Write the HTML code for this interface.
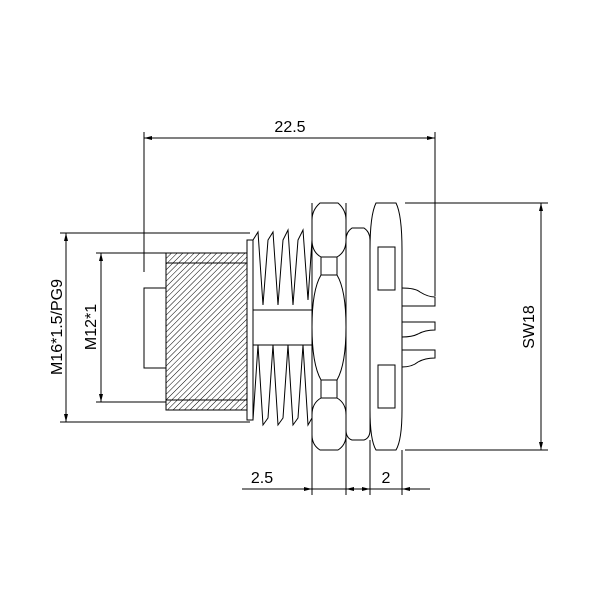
<!DOCTYPE html>
<html><head><style>body{margin:0;background:#fff}svg{display:block}</style></head><body>
<svg width="600" height="600" viewBox="0 0 600 600" xmlns="http://www.w3.org/2000/svg" font-family="Liberation Sans, sans-serif">
<defs>
<pattern id="h" width="4" height="4" patternUnits="userSpaceOnUse" patternTransform="rotate(45)">
<line x1="0" y1="0" x2="0" y2="4" stroke="#000" stroke-width="1"/></pattern>
<marker id="a" markerWidth="8" markerHeight="4" refX="8" refY="2" orient="auto-start-reverse" markerUnits="userSpaceOnUse"><path d="M0,0L8,2L0,4z"/></marker>
</defs>
<g stroke="#000" fill="none" stroke-width="1">
<!-- 22.5 dim -->
<line x1="144" y1="138" x2="435" y2="138" marker-start="url(#a)" marker-end="url(#a)"/>
<line x1="144" y1="132" x2="144" y2="272"/>
<line x1="435" y1="132" x2="435" y2="296"/>
<!-- left dims -->
<line x1="60" y1="233" x2="250" y2="233"/>
<line x1="60" y1="422" x2="250" y2="422"/>
<line x1="66" y1="233" x2="66" y2="422" marker-start="url(#a)" marker-end="url(#a)"/>
<line x1="96" y1="253" x2="166" y2="253"/>
<line x1="96" y1="402" x2="166" y2="402"/>
<line x1="101" y1="253" x2="101" y2="402" marker-start="url(#a)" marker-end="url(#a)"/>
<!-- small rect -->
<rect x="144" y="288" width="22" height="80"/>
<!-- hatched body -->
<rect x="166" y="253" width="81" height="157" fill="url(#h)"/>
<line x1="166" y1="263" x2="247" y2="263"/>
<line x1="166" y1="400" x2="247" y2="400"/>
<!-- threads -->
<rect x="247" y="240" width="6" height="180"/>
<path d="M253,240 L258,232 L263,305 L268,240 L273,232 L278,305 L283,240 L288,230 L293,305 L298,240 L303,230 L308,300 L312,240"/>
<path d="M253,420 L258,345 L263,425 L268,418 L273,345 L278,425 L283,418 L288,345 L293,425 L298,418 L303,345 L308,425 L312,418"/>
<line x1="253" y1="310" x2="312" y2="310"/>
<line x1="253" y1="345" x2="312" y2="345"/>
<!-- nut 1 -->
<line x1="312" y1="203" x2="312" y2="495"/>
<line x1="346" y1="203" x2="346" y2="495"/>
<path d="M320,203 L338,203 Q346,210 346,220 L346,240 Q346,252 337,257 L321,257 Q312,252 312,240 L312,220 Q312,210 320,203Z"/>
<path d="M321,257 L337,257 L337,275 L321,275Z"/>
<path d="M321,275 L337,275 Q346,290 346,327 Q346,364 337,380 L321,380 Q312,364 312,327 Q312,290 321,275Z"/>
<path d="M321,380 L337,380 L337,398 L321,398Z"/>
<path d="M321,398 L337,398 Q346,403 346,415 L346,435 Q346,445 338,450 L320,450 Q312,445 312,435 L312,415 Q312,403 321,398Z"/>
<!-- washer -->
<path d="M352,228 L364,228 Q370,232 370,240 L370,430 Q370,438 364,440 L352,440 Q346,438 346,430 L346,240 Q346,232 352,228Z"/>
<line x1="370" y1="440" x2="370" y2="495"/>
<!-- nut 2 -->
<path d="M376,203 L396,203 Q402,215 402,250 L402,410 Q402,440 396,450 L376,450 Q370,440 370,410 L370,250 Q370,215 376,203Z"/>
<path d="M378,247 L395,247 L395,290 L378,290Z"/>
<path d="M378,365 L395,365 L395,408 L378,408Z"/>
<line x1="402" y1="450" x2="402" y2="495"/>
<!-- pins -->
<path d="M402,288 Q415,288 420,292 Q428,297 435,297 L435,306 L402,306"/>
<path d="M402,322 L435,322 L435,330 Q425,330 418,334 Q412,337 402,337"/>
<path d="M402,350 L435,350 L435,358 Q425,358 418,362 Q412,367 402,367"/>
<!-- SW18 -->
<line x1="405" y1="203" x2="548" y2="203"/>
<line x1="405" y1="450" x2="548" y2="450"/>
<line x1="541" y1="203" x2="541" y2="450" marker-start="url(#a)" marker-end="url(#a)"/>
<!-- bottom dims -->
<line x1="242" y1="489" x2="312" y2="489" marker-end="url(#a)"/>
<line x1="346" y1="489" x2="370" y2="489" marker-start="url(#a)" marker-end="url(#a)"/>
<line x1="312" y1="489" x2="346" y2="489"/>
<line x1="370" y1="489" x2="402" y2="489"/>
<line x1="402" y1="489" x2="430" y2="489" marker-start="url(#a)"/>
</g>
<g font-size="16" fill="#000">
<text x="290" y="132" text-anchor="middle">22.5</text>
<text x="262" y="483" text-anchor="middle">2.5</text>
<text x="386" y="483" text-anchor="middle">2</text>
<text transform="translate(534,327) rotate(-90)" text-anchor="middle">SW18</text>
<text transform="translate(62,327) rotate(-90)" text-anchor="middle">M16*1.5/PG9</text>
<text transform="translate(96,327) rotate(-90)" text-anchor="middle">M12*1</text>
</g>
</svg>
</body></html>
